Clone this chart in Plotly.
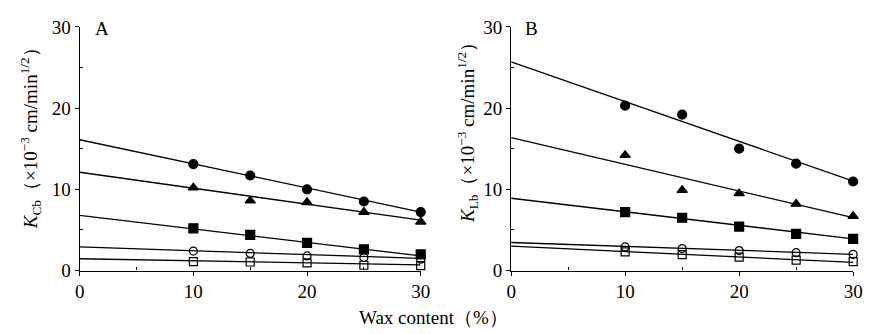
import plotly.graph_objects as go
from plotly.subplots import make_subplots

wax = [10, 15, 20, 25, 30]
fit_x = [0, 30]

# Panel A (K_Cb)
a_circle = [13.1, 11.7, 10.0, 8.5, 7.2]
a_triangle = [10.2, 8.6, 8.4, 7.2, 6.0]
a_square = [5.2, 4.4, 3.4, 2.6, 2.0]
a_ocircle = [2.4, 2.1, 1.8, 1.6, 1.4]
a_osquare = [1.1, 1.05, 0.93, 0.65, 0.6]
a_fit_circle = [16.1, 7.2]
a_fit_triangle = [12.1, 6.2]
a_fit_square = [6.8, 1.8]
a_fit_ocircle = [2.9, 1.5]
a_fit_osquare = [1.45, 0.7]

# Panel B (K_Lb)
b_circle = [20.3, 19.2, 15.0, 13.15, 10.96]
b_triangle = [14.2, 9.9, 9.5, 8.2, 6.7]
b_square = [7.2, 6.5, 5.4, 4.5, 3.9]
b_ocircle = [2.9, 2.7, 2.45, 2.2, 2.0]
b_osquare = [2.3, 1.95, 1.65, 1.27, 1.1]
b_fit_circle = [25.7, 11.0]
b_fit_triangle = [16.35, 6.5]
b_fit_square = [8.9, 3.9]
b_fit_ocircle = [3.45, 2.0]
b_fit_osquare = [3.0, 1.0]

symbols = ["circle", "triangle-up", "square", "circle-open", "square-open"]

fig = make_subplots(rows=1, cols=2)

panels = [
    (1, [a_circle, a_triangle, a_square, a_ocircle, a_osquare],
     [a_fit_circle, a_fit_triangle, a_fit_square, a_fit_ocircle, a_fit_osquare]),
    (2, [b_circle, b_triangle, b_square, b_ocircle, b_osquare],
     [b_fit_circle, b_fit_triangle, b_fit_square, b_fit_ocircle, b_fit_osquare]),
]
for col, series, fits in panels:
    for ys, fit, sym in zip(series, fits, symbols):
        fig.add_trace(go.Scatter(x=fit_x, y=fit, mode="lines",
                                 line=dict(color="black", width=1.3),
                                 showlegend=False, hoverinfo="skip"), row=1, col=col)
        fig.add_trace(go.Scatter(x=wax, y=ys, mode="markers", cliponaxis=False,
                                 marker=dict(symbol=sym, size=8 if "open" in sym else 9,
                                             color="black",
                                             line=dict(color="black", width=1.2)),
                                 showlegend=False), row=1, col=col)

font = dict(family="Liberation Serif, Times New Roman, serif", size=19, color="black")
axis_common = dict(range=[0, 30], tickvals=[0, 10, 20, 30], showgrid=False, zeroline=False,
                   showline=True, linecolor="black", linewidth=1.3, ticks="outside",
                   ticklen=4, tickcolor="black", tickfont=font,
                   minor=dict(tickvals=[5, 15, 25], ticks="inside", ticklen=3, tickcolor="black"))

ydom = [56 / 334, 316 / 334]
fig.update_xaxes(**axis_common)
fig.update_yaxes(**axis_common)
fig.update_layout(
    xaxis=dict(domain=[76 / 872, 423 / 872]),
    xaxis2=dict(domain=[515 / 872, 863 / 872]),
    yaxis=dict(domain=ydom),
    yaxis2=dict(domain=ydom),
    width=872, height=334,
    margin=dict(l=0, r=0, t=0, b=0),
    plot_bgcolor="white", paper_bgcolor="white",
    font=font,
)

ann = [
    dict(x=90 / 872, y=1 - 20 / 334, text="A", xanchor="left", yanchor="middle"),
    dict(x=527 / 872, y=1 - 20 / 334, text="B", xanchor="left", yanchor="middle"),
    dict(x=436 / 872, y=1 - 328 / 334, text="Wax content（%）", xanchor="center", yanchor="middle"),
    dict(x=26 / 872, y=1 - 132 / 334, textangle=-90,
         text="<i>K</i><sub>Cb</sub>（×10<sup>−3</sup> cm/min<sup>1/2</sup>）",
         xanchor="center", yanchor="middle"),
    dict(x=470 / 872, y=1 - 126 / 334, textangle=-90,
         text="<i>K</i><sub>Lb</sub>（×10<sup>−3</sup> cm/min<sup>1/2</sup>）",
         xanchor="center", yanchor="middle"),
]
for a in ann:
    fig.add_annotation(xref="paper", yref="paper", showarrow=False,
                       font=dict(family=font["family"], size=19, color="black"), **a)

fig.write_html("out.html")
